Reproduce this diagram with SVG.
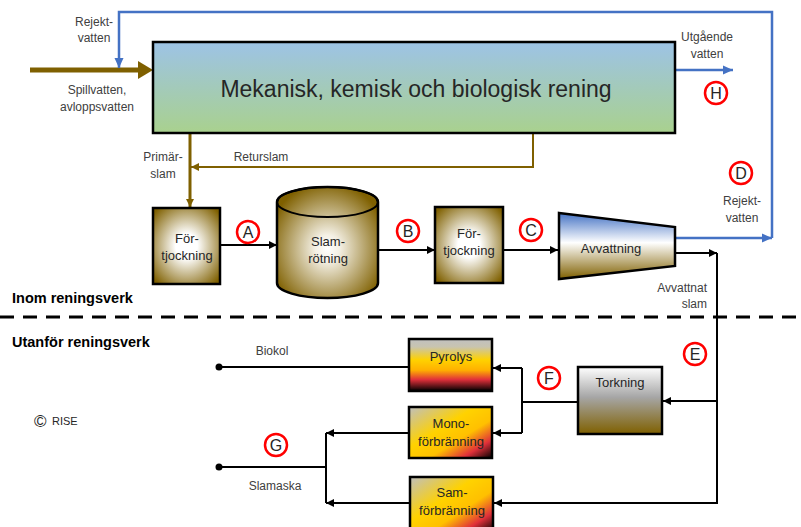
<svg xmlns="http://www.w3.org/2000/svg" width="801" height="527" viewBox="0 0 801 527">
<defs>
<style>
text{font-family:"Liberation Sans",Arial,sans-serif;fill:#404040;font-size:12px}
.c{text-anchor:middle}
.n{font-size:13px;fill:#262626;text-anchor:middle}
.b{font-weight:bold;fill:#000;font-size:14.5px}
.bk{stroke:#000;stroke-width:2;fill:none}
.bl{stroke:#4472C4;stroke-width:2.5;fill:none}
.br{stroke:#7F6000;fill:none}
.node{stroke:#000;stroke-width:2.5}
.circ{fill:#fff;stroke:#FF0000;stroke-width:2.5}
.lt{font-size:16px;fill:#262626;text-anchor:middle}
</style>
<linearGradient id="gMain" x1="0" y1="0" x2="0" y2="1"><stop offset="0" stop-color="#9DC3E6"/><stop offset="1" stop-color="#A9D18E"/></linearGradient>
<radialGradient id="gBrown" cx="0.5" cy="0.5" r="0.65"><stop offset="0" stop-color="#FFFFFF"/><stop offset="0.25" stop-color="#FFFFFF"/><stop offset="1" stop-color="#7F6000"/></radialGradient>
<radialGradient id="gCyl" cx="0.5" cy="0.55" r="0.6"><stop offset="0" stop-color="#FFFFFF"/><stop offset="0.2" stop-color="#F4F0E4"/><stop offset="1" stop-color="#7F6000"/></radialGradient>
<linearGradient id="gAvv" x1="0" y1="0" x2="0" y2="1"><stop offset="0" stop-color="#4472C4"/><stop offset="0.45" stop-color="#FFFFFF"/><stop offset="1" stop-color="#7F6000"/></linearGradient>
<linearGradient id="gTork" x1="0" y1="0" x2="0" y2="1"><stop offset="0" stop-color="#FFFFFF"/><stop offset="0.45" stop-color="#A6A6A6"/><stop offset="1" stop-color="#7F6000"/></linearGradient>
<linearGradient id="gPyr" x1="0" y1="0" x2="0" y2="1"><stop offset="0" stop-color="#C0C0C0"/><stop offset="0.15" stop-color="#C8C4B0"/><stop offset="0.4" stop-color="#FFD200"/><stop offset="0.6" stop-color="#FFB000"/><stop offset="0.78" stop-color="#E0303A"/><stop offset="1" stop-color="#000000"/></linearGradient>
<linearGradient id="gMono" x1="0" y1="0" x2="1" y2="1"><stop offset="0" stop-color="#BFBFBF"/><stop offset="0.4" stop-color="#FFD200"/><stop offset="0.62" stop-color="#FFC000"/><stop offset="0.82" stop-color="#E0303A"/><stop offset="1" stop-color="#000000"/></linearGradient>
<marker id="aBk" markerUnits="userSpaceOnUse" markerWidth="10" markerHeight="10" refX="9" refY="5" orient="auto"><path d="M1,1 L9,5 L1,9 Z" fill="#000"/></marker>
<marker id="aBl" markerUnits="userSpaceOnUse" markerWidth="12" markerHeight="12" refX="11" refY="6" orient="auto"><path d="M1,1.5 L11,6 L1,10.5 Z" fill="#4472C4"/></marker>
<marker id="aBr" markerUnits="userSpaceOnUse" markerWidth="10" markerHeight="10" refX="9" refY="5" orient="auto"><path d="M1,1 L9,5 L1,9 Z" fill="#7F6000"/></marker>
</defs>

<g id="connectors">
  <line x1="30" y1="70" x2="139" y2="70" stroke="#7F6000" stroke-width="5"/>
  <path d="M138,61 L153,70 L138,79 Z" fill="#7F6000"/>
  <path class="bl" d="M772,238 L772,12 L119,12 L119,68" marker-end="url(#aBl)"/>
  <path class="bl" d="M675,238 L772,238" marker-end="url(#aBl)"/>
  <path class="bl" d="M675,70 L733,70" marker-end="url(#aBl)"/>
  <path class="br" stroke-width="3" d="M190,133 L190,207" marker-end="url(#aBr)"/>
  <path class="br" stroke-width="2" d="M533,133 L533,167 L191,167" marker-end="url(#aBr)"/>
  <path class="bk" d="M220,245 L277,245" marker-end="url(#aBk)"/>
  <path class="bk" d="M378,250 L435,250" marker-end="url(#aBk)"/>
  <path class="bk" d="M503,250 L558,250" marker-end="url(#aBk)"/>
  <path class="bk" d="M675,253 L717,253" marker-end="url(#aBk)"/>
  <path class="bk" d="M717,253 L717,503 L494,503" marker-end="url(#aBk)"/>
  <path class="bk" d="M717,401 L663,401" marker-end="url(#aBk)"/>
  <path class="bk" d="M578,402 L522,402"/>
  <path class="bk" d="M522,368 L522,433"/>
  <path class="bk" d="M522,368 L493,368" marker-end="url(#aBk)"/>
  <path class="bk" d="M522,433 L493,433" marker-end="url(#aBk)"/>
  <path class="bk" d="M409,367 L219,367"/>
  <circle cx="219" cy="367" r="3.5" fill="#000"/>
  <path class="bk" d="M409,433 L326,433" marker-end="url(#aBk)"/>
  <path class="bk" d="M410,503 L326,503" marker-end="url(#aBk)"/>
  <path class="bk" d="M326,433 L326,503"/>
  <path class="bk" d="M326,467 L219,467"/>
  <circle cx="219" cy="467" r="3.5" fill="#000"/>
  <line x1="0" y1="317" x2="801" y2="317" stroke="#000" stroke-width="3" stroke-dasharray="14,9"/>
</g>

<g id="main">
  <rect class="node" x="153" y="42" width="522" height="91" fill="url(#gMain)" stroke-width="3"/>
  <text x="416" y="97" style="font-size:23px;fill:#262626" text-anchor="middle">Mekanisk, kemisk och biologisk rening</text>
</g>

<g id="fortjockning1">
  <rect class="node" x="153" y="208" width="67" height="76" fill="url(#gBrown)"/>
  <text class="n" x="187" y="243">För-</text>
  <text class="n" x="187" y="260">tjockning</text>
</g>

<g id="slamrotning">
  <path class="node" d="M277,202 L277,283 A50.5,15 0 0 0 378,283 L378,202 A50.5,15 0 0 0 277,202 Z" fill="url(#gCyl)"/>
  <ellipse cx="327.5" cy="202" rx="50.5" ry="15" fill="none" stroke="#000" stroke-width="2"/>
  <text class="n" x="328" y="246">Slam-</text>
  <text class="n" x="328" y="263">rötning</text>
</g>

<g id="fortjockning2">
  <rect class="node" x="435" y="207" width="68" height="76" fill="url(#gBrown)"/>
  <text class="n" x="469" y="238">För-</text>
  <text class="n" x="469" y="255">tjockning</text>
</g>

<g id="avvattning">
  <path class="node" d="M559,213 L675,227 L675,266 L559,279 Z" fill="url(#gAvv)"/>
  <text class="n" x="611" y="253">Avvattning</text>
</g>

<g id="torkning">
  <rect class="node" x="578" y="367" width="84" height="67" fill="url(#gTork)"/>
  <text class="n" x="620" y="387">Torkning</text>
</g>

<g id="pyrolys">
  <rect class="node" x="409" y="339" width="83" height="52" fill="url(#gPyr)"/>
  <text class="n" x="451" y="361">Pyrolys</text>
</g>

<g id="mono">
  <rect class="node" x="409" y="407" width="83" height="51" fill="url(#gMono)"/>
  <text class="n" x="451" y="428">Mono-</text>
  <text class="n" x="451" y="446">förbränning</text>
</g>

<g id="sam">
  <rect class="node" x="410" y="477" width="83" height="55" fill="url(#gMono)"/>
  <text class="n" x="452" y="497">Sam-</text>
  <text class="n" x="452" y="515">förbränning</text>
</g>

<g id="markers">
  <circle class="circ" cx="248" cy="232" r="11"/><text class="lt" x="248" y="238">A</text>
  <circle class="circ" cx="408" cy="231" r="11"/><text class="lt" x="408" y="237">B</text>
  <circle class="circ" cx="531" cy="230" r="11"/><text class="lt" x="531" y="236">C</text>
  <circle class="circ" cx="741" cy="173" r="11"/><text class="lt" x="741" y="179">D</text>
  <circle class="circ" cx="695" cy="354" r="11"/><text class="lt" x="695" y="360">E</text>
  <circle class="circ" cx="549" cy="378" r="11"/><text class="lt" x="549" y="384">F</text>
  <circle class="circ" cx="276" cy="445" r="11"/><text class="lt" x="276" y="451">G</text>
  <circle class="circ" cx="716" cy="93" r="11"/><text class="lt" x="716" y="99">H</text>
</g>

<g id="labels">
  <text class="c" x="94" y="26">Rejekt-</text>
  <text class="c" x="94" y="42">vatten</text>
  <text class="c" x="97" y="94">Spillvatten,</text>
  <text class="c" x="97" y="111">avloppsvatten</text>
  <text class="c" x="707" y="41">Utgående</text>
  <text class="c" x="707" y="58">vatten</text>
  <text class="c" x="742" y="205">Rejekt-</text>
  <text class="c" x="742" y="222">vatten</text>
  <text class="c" x="163" y="161">Primär-</text>
  <text class="c" x="163" y="178">slam</text>
  <text class="c" x="261" y="161">Returslam</text>
  <text x="707" y="292" text-anchor="end">Avvattnat</text>
  <text x="707" y="308" text-anchor="end">slam</text>
  <text class="c" x="272" y="355">Biokol</text>
  <text class="c" x="275" y="490">Slamaska</text>
  <text class="b" x="12" y="303">Inom reningsverk</text>
  <text class="b" x="12" y="347">Utanför reningsverk</text>
  <text x="34" y="427" style="font-size:17px;fill:#262626">©</text>
  <text x="52" y="425" style="font-size:11px;fill:#262626">RISE</text>
</g>
</svg>
